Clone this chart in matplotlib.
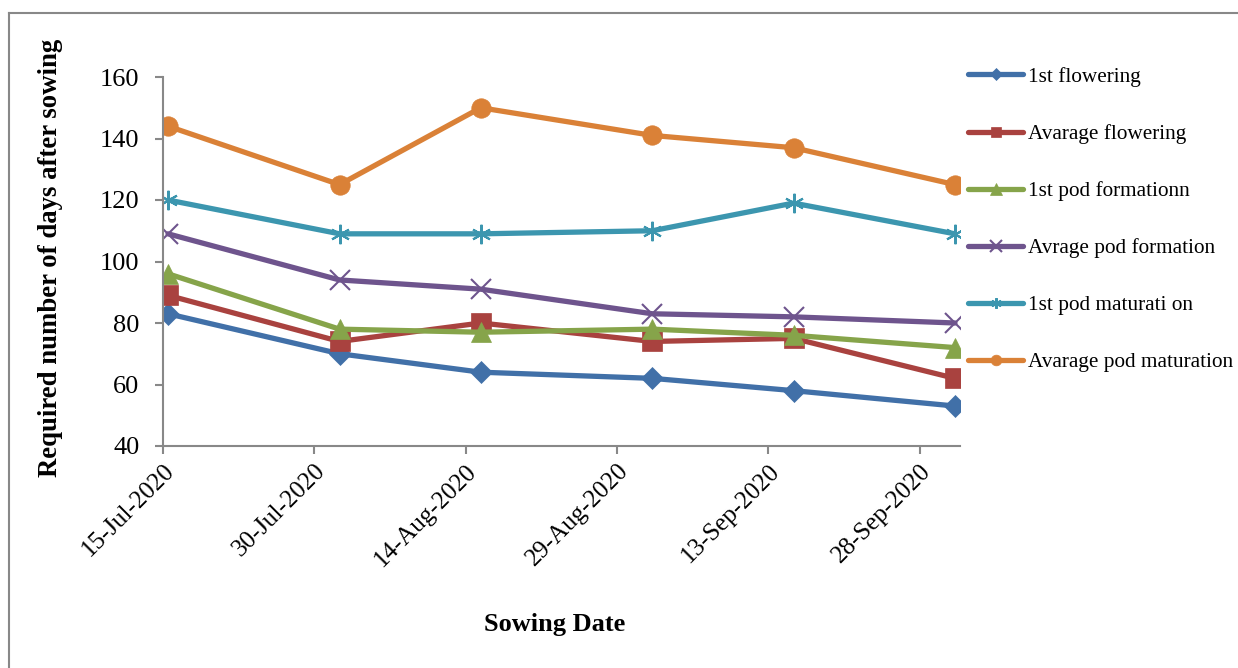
import matplotlib
matplotlib.use('Agg')
import matplotlib.pyplot as plt
import matplotlib.dates as mdates
from matplotlib.lines import Line2D
from matplotlib.transforms import ScaledTranslation

# Sowing dates and days-after-sowing for each stage
sowing_dates = ['2020-07-15', '2020-08-01', '2020-08-15', '2020-09-01', '2020-09-15', '2020-10-01']
tick_dates = ['2020-07-15', '2020-07-30', '2020-08-14', '2020-08-29', '2020-09-13', '2020-09-28']
tick_labels = ['15-Jul-2020', '30-Jul-2020', '14-Aug-2020', '29-Aug-2020', '13-Sep-2020', '28-Sep-2020']

first_flowering = [83, 70, 64, 62, 58, 53]
avg_flowering = [89, 74, 80, 74, 75, 62]
first_pod_formation = [96, 78, 77, 78, 76, 72]
avg_pod_formation = [109, 94, 91, 83, 82, 80]
first_pod_maturation = [120, 109, 109, 110, 119, 109]
avg_pod_maturation = [144, 125, 150, 141, 137, 125]

labels = ['1st flowering', 'Avarage flowering', '1st pod formationn',
          'Avrage pod formation', '1st pod maturati on', 'Avarage pod maturation']

plt.rcParams['font.family'] = ['Liberation Serif', 'DejaVu Serif']

fig = plt.figure(figsize=(12.38, 6.68), dpi=100)
ax = fig.add_axes([163/1238, 1 - 446/668, (960-163)/1238, (446-77)/668])

# points sit in the middle of the day, like the Excel date axis
x = mdates.datestr2num(sowing_dates) + 0.5

series = [first_flowering, avg_flowering, first_pod_formation,
          avg_pod_formation, first_pod_maturation, avg_pod_maturation]
colors = ['#4170A8', '#A9423F', '#86A44A', '#6E548D', '#3C96AF', '#DA8137']
markers = ['D', 's', '^', 'x', (6, 2, 0), 'o']
msizes = [11, 14, 15, 15, 14, 14]
medges = [0.5, 0.5, 0.5, 1.5, 1.5, 0.5]

for y, c, m, ms, me, lab in zip(series, colors, markers, msizes, medges, labels):
    ax.plot(x, y, color=c, lw=3.8, marker=m, markersize=ms, markeredgewidth=me,
            markeredgecolor=c, markerfacecolor=c, label=lab, solid_capstyle='round')

ax.set_ylim(40, 160)
ax.set_yticks(range(40, 161, 20))
ax.set_xlim(mdates.datestr2num('2020-07-15'), mdates.datestr2num('2020-10-02'))
ax.set_xticks(mdates.datestr2num(tick_dates))
ax.set_xticklabels(tick_labels, rotation=45, ha='right', rotation_mode='anchor', fontsize=18)
offset = ScaledTranslation(6/100, -17/100, fig.dpi_scale_trans)
for lbl in ax.get_xticklabels():
    lbl.set_transform(lbl.get_transform() + offset)
ax.tick_params(axis='y', labelsize=19, length=6, color='#888888', width=1.5, pad=11)
ax.tick_params(axis='x', length=6, color='#888888', width=1.5, pad=4)

for s in ['top', 'right']:
    ax.spines[s].set_visible(False)
for s in ['left', 'bottom']:
    ax.spines[s].set_color('#888888')
    ax.spines[s].set_linewidth(1.5)

ax.set_xlabel('Sowing Date', fontsize=19, fontweight='bold')
ax.xaxis.set_label_coords((555-163)/(960-163), -(613-446)/(446-77))
ax.set_ylabel('Required number of days after sowing', fontsize=19.3, fontweight='bold')
ax.yaxis.set_label_coords(-(163-63)/(960-163), (446-258)/(446-77))

leg = ax.legend(loc='upper left', bbox_to_anchor=(968/1238, 1 - 67/668), bbox_transform=fig.transFigure,
                frameon=False, fontsize=15.3, labelspacing=1.75, handlelength=2.6, handletextpad=0.2,
                borderaxespad=0, borderpad=0, markerscale=0.55)

# outer chart border
fig.add_artist(Line2D([9/1238, 9/1238], [0, 1 - 13/668], color='#888888', lw=1.5))
fig.add_artist(Line2D([9/1238, 1], [1 - 13/668, 1 - 13/668], color='#888888', lw=1.5))

fig.savefig('out.png', dpi=100)
